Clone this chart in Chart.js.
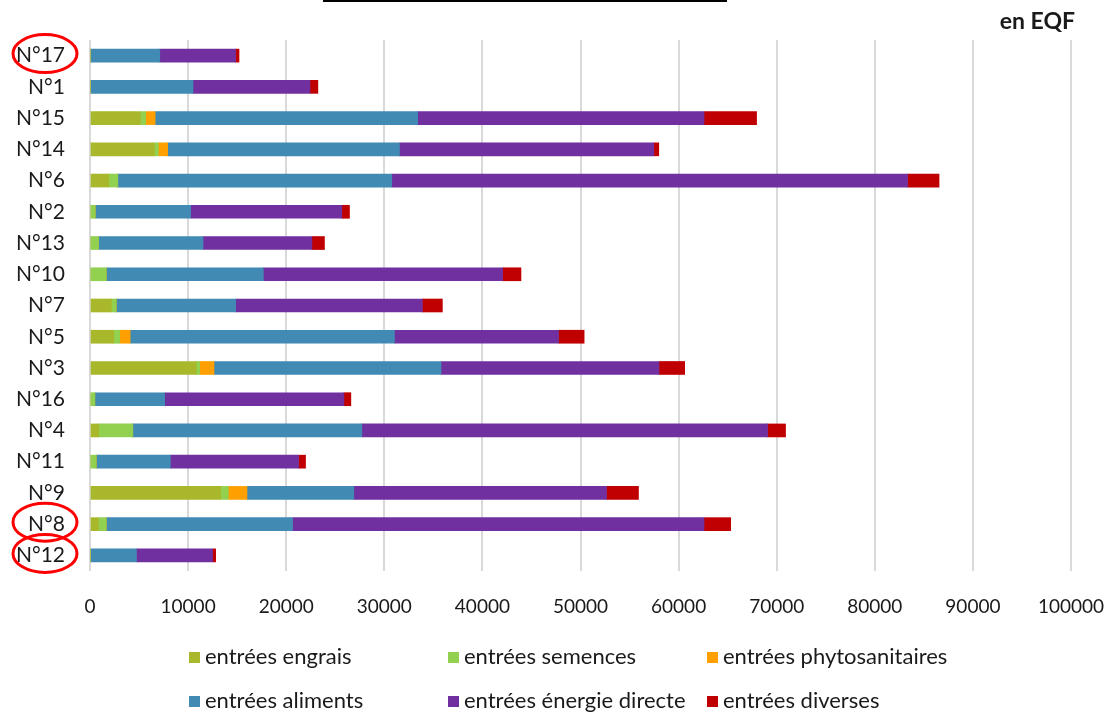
<!DOCTYPE html>
<html>
<head>
<meta charset="utf-8">
<script src="https://cdn.jsdelivr.net/npm/chart.js@4/dist/chart.umd.min.js"></script>
<style>
  body { margin: 0; background: #fff; font-family: Lato, "Open Sans", sans-serif; color: #1a1a1a; }
  #wrap { position: relative; width: 1109px; height: 715px; }
  #titleLine { position: absolute; left: 323px; top: 0; width: 404px; height: 2px; background: #000; }
  #unit { position: absolute; right: 34px; top: 6px; font-weight: bold; font-size: 23px; }
  #legend { position: absolute; left: 189px; top: 643px; display: grid; grid-template-columns: 259px 259px 260px; row-gap: 19px; font-size: 22px; line-height: 25px; }
  #legend span.box { display: inline-block; width: 11px; height: 11px; margin-right: 5px; vertical-align: 1px; }
</style>
</head>
<body>
<div id="wrap">
  <canvas id="barChart" width="1109" height="715"></canvas>
  <div id="titleLine"></div>
  <div id="unit">en EQF</div>
  <div id="legend"></div>
</div>
<script>
const categories = ['N°17', 'N°1', 'N°15', 'N°14', 'N°6', 'N°2', 'N°13', 'N°10', 'N°7', 'N°5', 'N°3', 'N°16', 'N°4', 'N°11', 'N°9', 'N°8', 'N°12'];

const engrais      = [0, 0, 5140, 6570, 1910, 0, 0, 0, 2190, 2420, 10840, 0, 900, 0, 13320, 870, 0];
const semences     = [0, 0, 540, 400, 920, 530, 870, 1650, 480, 610, 340, 490, 3460, 630, 780, 780, 0];
const phyto        = [0, 0, 960, 950, 0, 0, 0, 0, 0, 1060, 1460, 0, 0, 0, 1900, 0, 0];
const aliments     = [7110, 10500, 26760, 23620, 27930, 9730, 10650, 16020, 12170, 26940, 23140, 7120, 23350, 7560, 10890, 19000, 4730];
const energie      = [7730, 11920, 29190, 25930, 52580, 15410, 11100, 24390, 19040, 16730, 22220, 18270, 41360, 13070, 25760, 41940, 7770];
const diverses     = [350, 810, 5360, 510, 3210, 780, 1280, 1870, 2040, 2610, 2620, 710, 1830, 710, 3260, 2720, 310];

const xTicks = [0, 10000, 20000, 30000, 40000, 50000, 60000, 70000, 80000, 90000, 100000];
const circled = ['N°17', 'N°8', 'N°12'];

const ctx = document.getElementById('barChart');

// red circles drawn around some category labels
const circlePlugin = {
    id: 'circles',
    afterDraw(chart) {
        const y = chart.scales.y;
        const c = chart.ctx;
        c.save();
        c.strokeStyle = '#ff0000';
        c.lineWidth = 3;
        circled.forEach(name => {
            const py = y.getPixelForValue(categories.indexOf(name));
            c.beginPath();
            c.ellipse(45, py - 2, 32, 19, 0, 0, Math.PI * 2);
            c.stroke();
        });
        c.restore();
    }
};

const chart = new Chart(ctx, {
    type: 'bar',
    data: {
        labels: categories,
        datasets: [
            { label: 'entrées engrais', data: engrais, backgroundColor: '#a8b82a' },
            { label: 'entrées semences', data: semences, backgroundColor: '#92d050' },
            { label: 'entrées phytosanitaires', data: phyto, backgroundColor: '#ffa000' },
            { label: 'entrées aliments', data: aliments, backgroundColor: '#418ab3' },
            { label: 'entrées énergie directe', data: energie, backgroundColor: '#7030a0' },
            { label: 'entrées diverses', data: diverses, backgroundColor: '#c00000' }
        ]
    },
    options: {
        indexAxis: 'y',
        responsive: false,
        animation: false,
        devicePixelRatio: 1,
        barThickness: 13,
        layout: { padding: { top: 40, right: 38, bottom: 94, left: 0 } },
        plugins: {
            legend: { display: false },
            tooltip: { enabled: false }
        },
        scales: {
            x: {
                stacked: true,
                min: 0,
                max: 100000,
                afterBuildTicks: s => { s.ticks = xTicks.map(v => ({ value: v })); },
                afterFit: s => { s.height = 50; s.paddingLeft = 0; s.paddingRight = 0; },
                grid: { color: '#d9d9d9', lineWidth: 2, drawTicks: false },
                border: { display: false },
                ticks: {
                    padding: 24,
                    maxRotation: 0,
                    color: '#1a1a1a',
                    font: { family: 'Lato', size: 19 },
                    callback: v => String(v)
                }
            },
            y: {
                stacked: true,
                afterFit: s => { s.width = 90; },
                grid: { display: false },
                border: { display: false },
                ticks: {
                    padding: 17,
                    color: '#1a1a1a',
                    font: { family: 'Lato', size: 21 }
                }
            }
        }
    },
    plugins: [circlePlugin]
});

// legend laid out in three even columns like the original
const legend = document.getElementById('legend');
chart.data.datasets.forEach(ds => {
    const item = document.createElement('div');
    item.innerHTML = '<span class="box" style="background:' + ds.backgroundColor + '"></span>' + ds.label;
    legend.appendChild(item);
});
</script>
</body>
</html>
